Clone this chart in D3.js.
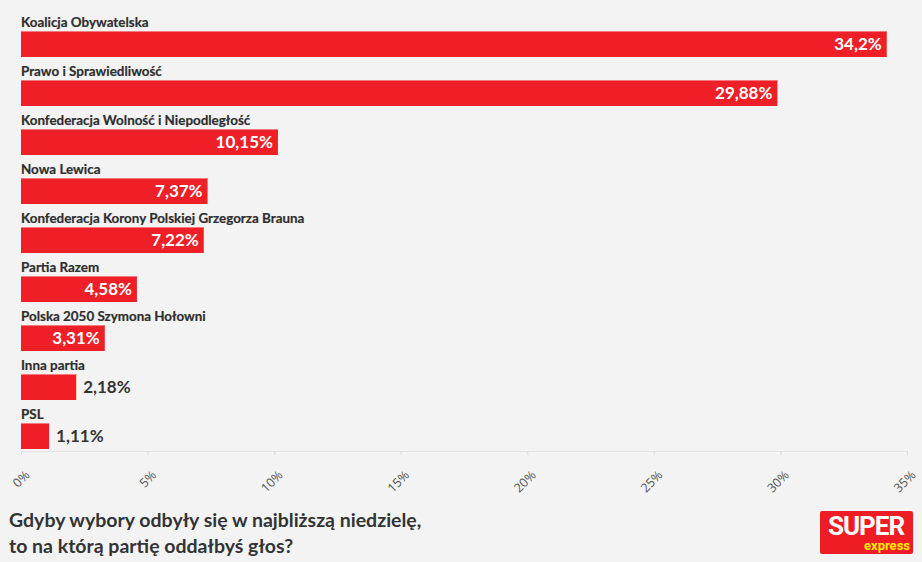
<!DOCTYPE html>
<html><head><meta charset="utf-8">
<script src="https://cdn.jsdelivr.net/npm/d3@7"></script>
<style>
html,body{margin:0;padding:0;background:#f3f3f3;}
svg{display:block;}
</style></head>
<body>
<svg id="c" width="922" height="562"></svg>
<script>
const categories = ["Koalicja Obywatelska","Prawo i Sprawiedliwość","Konfederacja Wolność i Niepodległość","Nowa Lewica","Konfederacja Korony Polskiej Grzegorza Brauna","Partia Razem","Polska 2050 Szymona Hołowni","Inna partia","PSL"];
const values = [34.2, 29.88, 10.15, 7.37, 7.22, 4.58, 3.31, 2.18, 1.11];
const valueLabels = ["34,2%","29,88%","10,15%","7,37%","7,22%","4,58%","3,31%","2,18%","1,11%"];
const tickValues = [0,5,10,15,20,25,30,35];
const tickLabels = ["0%","5%","10%","15%","20%","25%","30%","35%"];
const titleLines = ["Gdyby wybory odbyły się w najbliższą niedzielę,","to na którą partię oddałbyś głos?"];

const svg = d3.select("#c");
const font = "Lato, 'Open Sans', sans-serif";
const x = d3.scaleLinear().domain([0,35]).range([21,907]);
const y = d3.scaleBand().domain(categories).range([7,448]).paddingInner(0).paddingOuter(0);
const barH = 26, barOff = 24;

const g = svg.append("g");
svg.append("line").attr("x1",x(0)).attr("x2",x(35)).attr("y1",451.5).attr("y2",451.5).attr("stroke","#e3e3e3");
const ax = svg.append("g").attr("transform","translate(0,451)")
  .call(d3.axisBottom(x).tickValues(tickValues).tickFormat((d,i)=>tickLabels[i]).tickSize(4).tickSizeOuter(0));
ax.select(".domain").remove();
ax.selectAll(".tick line").attr("stroke","#dcdcdc");
ax.selectAll(".tick text").attr("fill","#555").attr("font-family","'Open Sans', sans-serif").attr("font-size",12.5)
  .attr("text-anchor","end").attr("dy",0).attr("transform","translate(4,20) rotate(-45)");

const rows = g.selectAll("g.row").data(categories).join("g").attr("class","row");
rows.append("text").attr("x",x(0)).attr("y",d=>y(d)+20).text(d=>d)
  .attr("font-family",font).attr("font-weight",700).attr("font-size",13.4).attr("fill","#2e2e2e")
  .attr("stroke","#2e2e2e").attr("stroke-width",0.2);
rows.append("rect").attr("x",x(0)).attr("y",d=>y(d)+barOff).attr("height",barH)
  .attr("width",(d,i)=>x(values[i])-x(0)).attr("fill","#ee1f27");
rows.append("rect").attr("x",x(0)).attr("y",d=>y(d)+barOff).attr("height",1)
  .attr("width",(d,i)=>x(values[i])-x(0)).attr("fill","#f37a7e");
rows.append("text")
  .attr("x",(d,i)=> values[i] >= 3 ? x(values[i]) - 5 : x(values[i]) + 7)
  .attr("y",d=>y(d)+barOff+19)
  .attr("text-anchor",(d,i)=> values[i] >= 3 ? "end" : "start")
  .attr("fill",(d,i)=> values[i] >= 3 ? "#fff" : "#333")
  .attr("font-family",font).attr("font-weight",700).attr("font-size",17)
  .text((d,i)=>valueLabels[i]);

svg.append("g").selectAll("text").data(titleLines).join("text")
  .attr("x",9).attr("y",(d,i)=>527+i*26).text(d=>d)
  .attr("font-family",font).attr("font-weight",700).attr("font-size",19.5).attr("fill","#333");

const logo = svg.append("g").attr("transform","translate(820,511)");
logo.append("rect").attr("width",93).attr("height",43).attr("rx",2).attr("fill","#ee1c25");
logo.append("text").attr("x",46).attr("y",24).attr("text-anchor","middle").text("SUPER")
  .attr("font-family","'Liberation Sans Narrow', 'Roboto', sans-serif").attr("font-weight",700).attr("font-size",26).attr("fill","#fff").attr("letter-spacing",-1);
logo.append("text").attr("x",90).attr("y",39).attr("text-anchor","end").text("express")
  .attr("font-family","'Roboto', sans-serif").attr("font-weight",700).attr("font-size",13).attr("fill","#ffee00");
</script>
</body></html>
